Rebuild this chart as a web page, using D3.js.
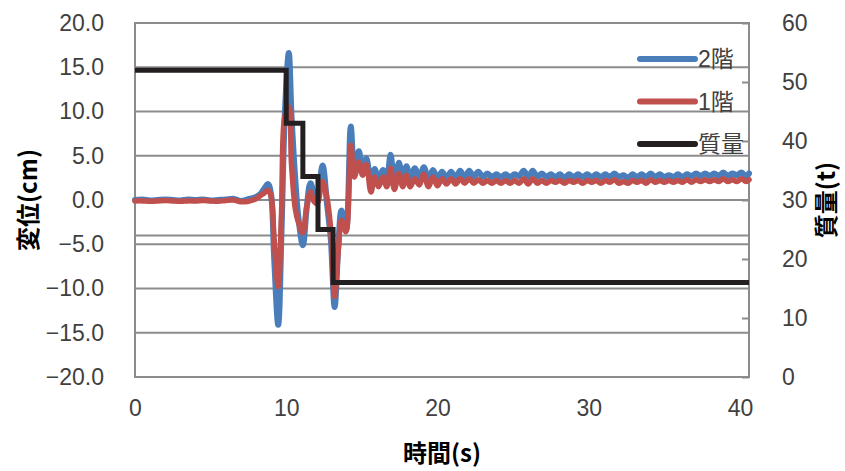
<!DOCTYPE html>
<html>
<head>
<meta charset="utf-8">
<script src="https://cdn.jsdelivr.net/npm/d3@7"></script>
<style>
  body { margin: 0; background: #fff; }
  svg { display: block; }
</style>
</head>
<body>
<div id="chart"></div>
<script>
const width = 845;
const height = 471;
const margin = { top: 23, right: 96, bottom: 94, left: 135 };

// time (s)
const time = [
    0, 0.5, 1, 1.5, 2, 2.5, 3, 3.5, 4, 4.5, 5, 5.5, 6, 6.5, 7, 7.5, 8,
    8.3, 8.55, 8.8, 9.0, 9.2, 9.47, 9.69, 9.91, 10.17, 10.35, 10.6, 10.8, 11.1, 11.35,
    11.6, 11.85, 12.05, 12.4, 12.7, 12.95, 13.2, 13.45, 13.65, 13.95, 14.27, 14.5, 14.8,
    15.05, 15.3, 15.6, 15.85, 16.1, 16.4, 16.65, 16.9, 17.15, 17.45, 17.7, 17.95, 18.2,
    18.5, 18.8,
    19.1, 19.4, 19.7, 20.0, 20.3, 20.6, 20.9, 21.2, 21.5, 21.8, 22.1, 22.4, 22.7, 23.0,
    23.3, 23.6, 23.9, 24.2, 24.5, 24.8, 25.1, 25.4, 25.7, 26.0, 26.3, 26.6, 26.9, 27.2,
    27.5, 27.8, 28.1, 28.4, 28.7, 29.0, 29.3, 29.6, 29.9, 30.2, 30.5, 30.8, 31.1, 31.4,
    31.7, 32.0, 32.3, 32.6, 32.9, 33.2, 33.5, 33.8, 34.1, 34.4, 34.7, 35.0, 35.3, 35.6,
    35.9, 36.2, 36.5, 36.8, 37.1, 37.4, 37.7, 38.0, 38.3, 38.6, 38.9, 39.2, 39.5, 39.8,
    40.1, 40.4, 40.6
];

// 2階 displacement (cm)
const floor2 = [
    0.0, 0.05, -0.05, 0.0, 0.05, 0.0, -0.05, 0.05, 0.0, 0.05, -0.05, 0.0, 0.05, 0.15, -0.1, 0.1, 0.35,
    0.7, 1.3, 1.8, 0.6, -6.5, -14.1, -3.4, 9.8, 16.6, 9.5, 2.3, -1.9, -5.1, -1.0,
    1.9, 0.8, 0.5, 3.9, -0.5, -4.5, -12.1, -5.0, -1.2, -3.4, 8.3, 3.4, 5.5,
    3.4, 4.7, 1.9, 3.5, 2.1, 3.4, 2.3, 5.1, 1.9, 4.2, 2.2, 3.8, 2.3,
    3.6, 2.5,
    3.7, 2.3, 3.4, 2.4, 3.2, 2.5, 3.2, 2.5, 3.3, 2.5, 3.3, 2.6, 3.2, 2.6,
    3.0, 2.6, 2.9, 2.6, 2.9, 2.6, 2.9, 2.7, 3.3, 2.6, 3.3, 2.6, 3.0, 2.6,
    2.9, 2.6, 2.9, 2.5, 2.9, 2.6, 2.9, 2.6, 2.9, 2.6, 2.9, 2.6, 2.9, 2.6,
    3.0, 2.6, 2.8, 2.5, 2.9, 2.6, 2.9, 2.6, 3.0, 2.6, 2.9, 2.6, 2.8, 2.6,
    2.9, 2.6, 2.9, 2.7, 3.0, 2.7, 3.0, 2.7, 3.0, 2.7, 3.1, 2.7, 3.0, 2.8,
    3.1, 2.7, 3.0
];

// 1階 displacement (cm)
const floor1 = [
    -0.1, -0.1, -0.15, -0.1, -0.05, -0.1, -0.15, -0.1, -0.1, -0.05, -0.1, -0.15, -0.05, 0.0, -0.2, -0.15, 0.15,
    0.5, 0.8, 1.1, 0.4, -4.5, -9.8, -1.5, 9.5, 10.5, 4.0, -1.0, -2.5, -3.7, -0.8,
    0.9, -0.2, -0.4, 2.1, 0.2, -3.5, -10.9, -5.5, -2.3, -3.6, 6.2, 2.6, 4.3,
    2.8, 4.0, 0.9, 2.6, 1.5, 2.6, 1.5, 3.6, 1.2, 3.0, 1.5, 2.8, 1.5,
    2.4, 1.7,
    2.9, 1.5, 2.6, 1.6, 2.4, 1.8, 2.4, 1.8, 2.4, 1.9, 2.4, 1.9, 2.3, 1.9,
    2.2, 1.9, 2.2, 1.9, 2.2, 1.9, 2.2, 1.9, 2.4, 1.8, 2.4, 1.9, 2.2, 1.9,
    2.2, 2.0, 2.2, 1.9, 2.2, 2.0, 2.2, 1.9, 2.2, 2.0, 2.2, 1.9, 2.2, 2.0,
    2.3, 1.9, 2.1, 1.9, 2.2, 2.0, 2.2, 1.9, 2.3, 2.0, 2.2, 2.0, 2.2, 2.0,
    2.2, 2.0, 2.3, 2.0, 2.3, 2.1, 2.3, 2.1, 2.3, 2.1, 2.4, 2.1, 2.3, 2.1,
    2.4, 2.1, 2.3
];

// 質量 (t), step changes
const massTime = [0, 10.0, 10.0, 11.1, 11.1, 12.1, 12.1, 13.1, 13.1, 40.6];
const massValue = [52, 52, 43, 43, 34, 34, 25, 25, 16, 16];

const xTicks = [0, 10, 20, 30, 40];
const yLeftTicks = [-20, -15, -10, -5, 0, 5, 10, 15, 20];
const yRightTicks = [0, 10, 20, 30, 40, 50, 60];
const axisCross = -4;

const seriesNames = ["2階", "1階", "質量"];
const seriesColors = ["#4a7ebb", "#c0504d", "#231f20"];

const innerW = width - margin.left - margin.right;
const innerH = height - margin.top - margin.bottom;

const x = d3.scaleLinear().domain([0, 40.6]).range([0, innerW]);
const yL = d3.scaleLinear().domain([-20, 20]).range([innerH, 0]);
const yR = d3.scaleLinear().domain([0, 60]).range([innerH, 0]);

const svg = d3.select('#chart').append('svg')
    .attr('width', width)
    .attr('height', height);

const g = svg.append('g')
    .attr('transform', 'translate(' + margin.left + ',' + margin.top + ')');

const gridColor = '#8c8c8c';
const labelFont = '"Liberation Sans", Arial, sans-serif';
const titleFont = '"Noto Sans CJK JP", sans-serif';

// gridlines
g.selectAll('.grid')
    .data(yLeftTicks.concat([axisCross]))
    .enter().append('line')
    .attr('class', 'grid')
    .attr('x1', 0)
    .attr('x2', innerW)
    .attr('y1', d => yL(d))
    .attr('y2', d => yL(d))
    .style('stroke', gridColor)
    .style('stroke-width', 2);

g.append('rect')
    .attr('width', innerW)
    .attr('height', innerH)
    .style('fill', 'none')
    .style('stroke', gridColor)
    .style('stroke-width', 2);

// left axis
const leftAxis = g.append('g')
    .call(d3.axisLeft(yL).tickValues(yLeftTicks).tickSize(0).tickPadding(31).tickFormat(d3.format('.1f')));
leftAxis.select('.domain').remove();
leftAxis.selectAll('text')
    .style('font-family', labelFont)
    .style('font-size', '23px')
    .style('fill', '#404040');

// right axis, short inside ticks
const rightAxis = g.append('g')
    .attr('transform', 'translate(' + innerW + ',0)')
    .call(d3.axisRight(yR).tickValues(yRightTicks).tickSize(-7).tickPadding(33).tickFormat(d3.format('d')));
rightAxis.select('.domain').remove();
rightAxis.selectAll('line').style('stroke', gridColor).style('stroke-width', 2);
rightAxis.selectAll('text')
    .style('font-family', labelFont)
    .style('font-size', '23px')
    .style('fill', '#404040');

// bottom axis
const bottomAxis = g.append('g')
    .attr('transform', 'translate(0,' + innerH + ')')
    .call(d3.axisBottom(x).tickValues(xTicks).tickSize(0).tickPadding(23).tickFormat(d3.format('d')));
bottomAxis.select('.domain').remove();
bottomAxis.selectAll('text')
    .style('font-family', labelFont)
    .style('font-size', '23px')
    .style('fill', '#404040');

// lines
const dispLine = d3.line()
    .x(d => x(d[0]))
    .y(d => yL(d[1]))
    .curve(d3.curveCatmullRom.alpha(0.5));

const massLine = d3.line()
    .x(d => x(d[0]))
    .y(d => yR(d[1]));

g.append('path')
    .datum(d3.zip(time, floor2))
    .attr('d', dispLine)
    .style('fill', 'none')
    .style('stroke', seriesColors[0])
    .style('stroke-width', 6)
    .style('stroke-linejoin', 'round')
    .style('stroke-linecap', 'round');

g.append('path')
    .datum(d3.zip(time, floor1))
    .attr('d', dispLine)
    .style('fill', 'none')
    .style('stroke', seriesColors[1])
    .style('stroke-width', 5.5)
    .style('stroke-linejoin', 'round')
    .style('stroke-linecap', 'round');

g.append('path')
    .datum(d3.zip(massTime, massValue))
    .attr('d', massLine)
    .style('fill', 'none')
    .style('stroke', seriesColors[2])
    .style('stroke-width', 5)
    .style('stroke-linejoin', 'miter');

// legend
const legend = svg.selectAll('.legend')
    .data(seriesNames)
    .enter().append('g')
    .attr('class', 'legend')
    .attr('transform', (d, i) => 'translate(640,' + (59 + i * 42.5) + ')');

legend.append('line')
    .attr('x1', 0)
    .attr('x2', 55)
    .style('stroke', (d, i) => seriesColors[i])
    .style('stroke-width', 6)
    .style('stroke-linecap', 'round');

legend.append('text')
    .attr('x', 58)
    .attr('dy', '0.36em')
    .style('font-family', '"Liberation Sans", "Noto Sans CJK JP", sans-serif')
    .style('font-size', '23px')
    .style('fill', '#404040')
    .text(d => d);

// axis titles
svg.append('text')
    .attr('transform', 'translate(37,200) rotate(-90)')
    .style('text-anchor', 'middle')
    .style('font-family', titleFont)
    .style('font-weight', 'bold')
    .style('font-size', '24px')
    .text('変位(cm)');

svg.append('text')
    .attr('transform', 'translate(835,200) rotate(-90)')
    .style('text-anchor', 'middle')
    .style('font-family', titleFont)
    .style('font-weight', 'bold')
    .style('font-size', '24px')
    .text('質量(t)');

svg.append('text')
    .attr('x', 442)
    .attr('y', 462)
    .style('text-anchor', 'middle')
    .style('font-family', titleFont)
    .style('font-weight', 'bold')
    .style('font-size', '24px')
    .text('時間(s)');
</script>
</body>
</html>
